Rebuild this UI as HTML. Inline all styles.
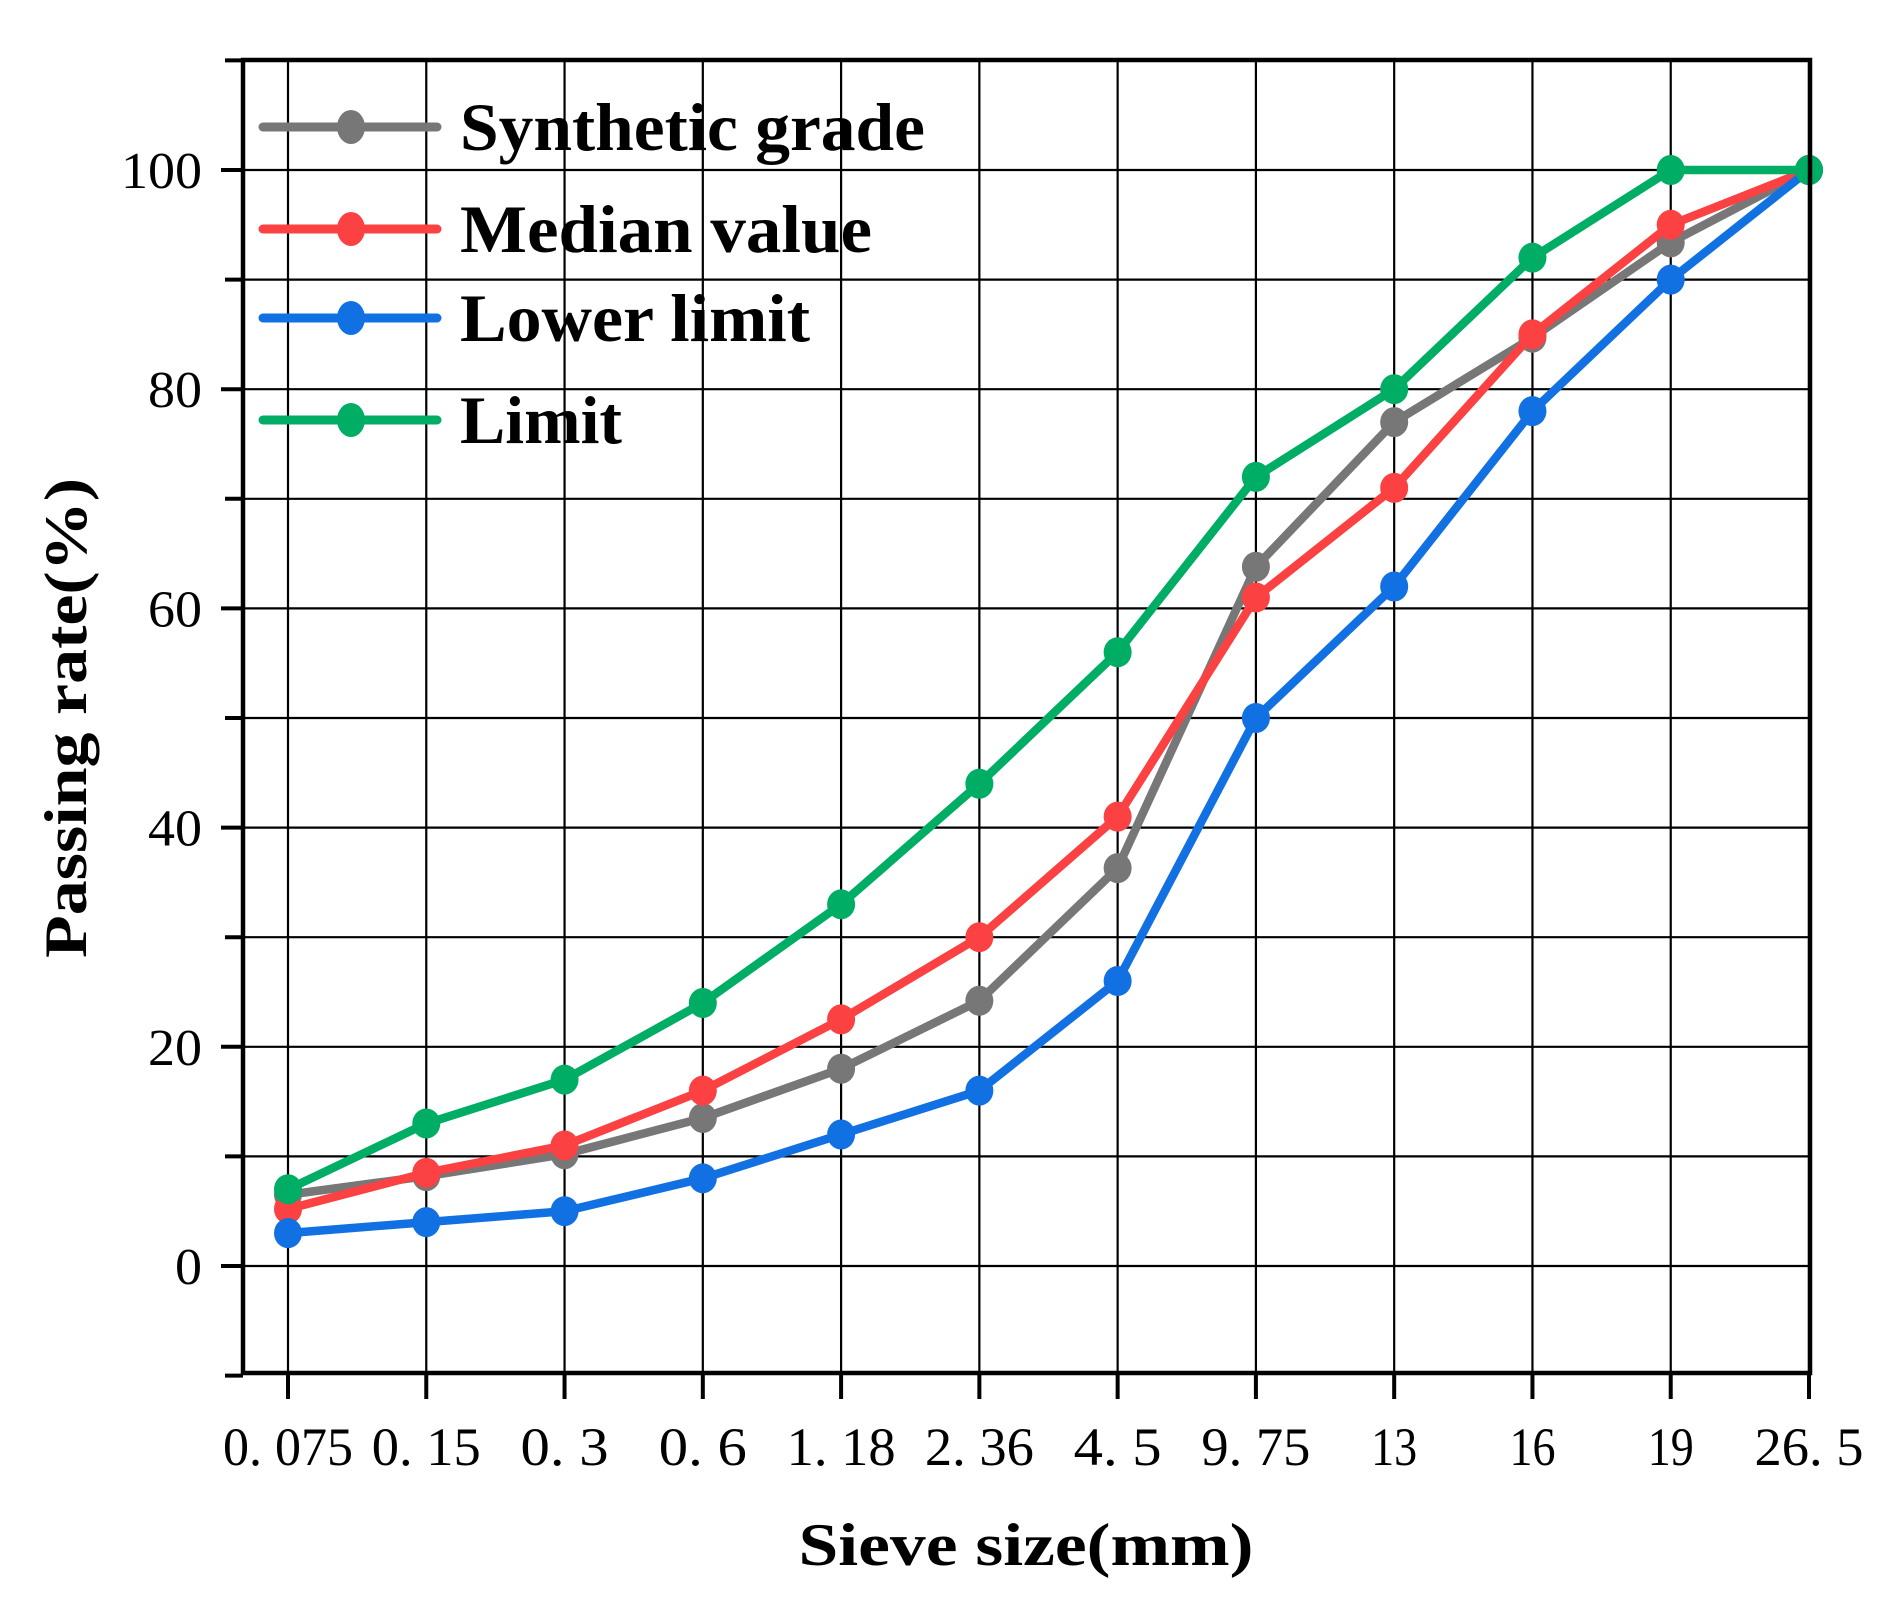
<!DOCTYPE html>
<html><head><meta charset="utf-8"><style>
html,body{margin:0;padding:0;background:#fff}
svg text{font-family:"Liberation Serif",serif}
</style></head><body>
<svg id="chart" width="1899" height="1601" xmlns="http://www.w3.org/2000/svg">
<g id="grid"></g>
<g id="series"></g>
<g id="axes"></g>
<g id="legend"></g>
<text x="1026" y="1565" text-anchor="middle" font-size="60" font-weight="bold" textLength="455" lengthAdjust="spacingAndGlyphs">Sieve size(mm)</text>
<text transform="translate(86,718) rotate(-90)" text-anchor="middle" font-size="60" font-weight="bold" textLength="480" lengthAdjust="spacingAndGlyphs">Passing rate(%)</text>
</svg>
<script>
const categories=["0. 075","0. 15","0. 3","0. 6","1. 18","2. 36","4. 5","9. 75","13","16","19","26. 5"];
const synthetic=[6.5,8.2,10.2,13.5,18,24.2,36.3,63.8,77,84.7,93.4,100];
const median=[5.2,8.5,11,16,22.5,30,41,61,71,85,95,100];
const lower=[3,4,5,8,12,16,26,50,62,78,90,100];
const limit=[7,13,17,24,33,44,56,72,80,92,100,100];
const yTicks=[0,20,40,60,80,100];
const seriesNames=["Synthetic grade","Median value","Lower limit","Limit"];
const NS="http://www.w3.org/2000/svg";
const L=243,R=1810,T=60,B=1373;
const x0=288,dx=(1809-288)/11;
const xs=i=>x0+i*dx;
const ys=v=>1266-(v)*(1266-170)/100;
function mk(tag,attrs,parent){const e=document.createElementNS(NS,tag);for(const k in attrs)e.setAttribute(k,attrs[k]);parent.appendChild(e);return e;}
const grid=document.getElementById('grid'),axes=document.getElementById('axes'),ser=document.getElementById('series'),leg=document.getElementById('legend');
for(let v=-10;v<=110;v+=10){
  const y=ys(v);
  if(v>-10&&v<110){const g=mk('line',{x1:L,x2:R,y1:y,y2:y,stroke:'#000','stroke-width':2.2},grid);
  
  }
  const t=mk('line',{x1:L-(v%20===0?22:18),x2:L,y1:y,y2:y,stroke:'#000','stroke-width':4},axes);
  
  
}
yTicks.forEach(v=>{const t=mk('text',{x:202,y:ys(v)+18,'text-anchor':'end','font-size':52,textLength:String(v).length*27,lengthAdjust:'spacingAndGlyphs'},axes);t.textContent=v;

});
categories.forEach((c,i)=>{const x=xs(i);
 const g=mk('line',{x1:x,x2:x,y1:T,y2:B,stroke:'#000','stroke-width':2.2},grid);
 
 
 const t=mk('line',{x1:x,x2:x,y1:B,y2:B+26,stroke:'#000','stroke-width':4},axes);
 
 
 const lb=mk('text',{x:x,y:1465,'text-anchor':'middle','font-size':54,textLength:c.length*21+4,lengthAdjust:'spacingAndGlyphs'},axes);lb.textContent=c;
 
 
});
const fr=mk('rect',{x:L,y:T,width:R-L,height:B-T,fill:'none',stroke:'#000','stroke-width':4.5},axes);


const all=[synthetic,median,lower,limit];
const colors=["#777777","#fb4141","#1170e2","#00ad64"];
all.forEach((d,k)=>{
 const pts=d.map((v,i)=>xs(i)+','+ys(v)).join(' ');
 const pl=mk('polyline',{points:pts,fill:'none',stroke:colors[k],'stroke-width':8.5,'stroke-linejoin':'round'},ser);
 
 
 d.forEach((v,i)=>{const c=mk('ellipse',{cx:xs(i),cy:ys(v),rx:14,ry:15,fill:colors[k]},ser);
 
 });
});
const legY=[127,229,318,420],legW=[465,412,350,162];
seriesNames.forEach((n,k)=>{const y=legY[k];
 const g=mk('g',{},leg);
 
 
 mk('line',{x1:263,x2:437,y1:y,y2:y,stroke:colors[k],'stroke-width':9,'stroke-linecap':'round'},g);
 mk('ellipse',{cx:351,cy:y,rx:14,ry:17,fill:colors[k]},g);
 const t=mk('text',{x:460,y:y+23,'font-size':68,'font-weight':'bold',textLength:legW[k],lengthAdjust:'spacingAndGlyphs'},g);t.textContent=n;
});
</script>
</body></html>
